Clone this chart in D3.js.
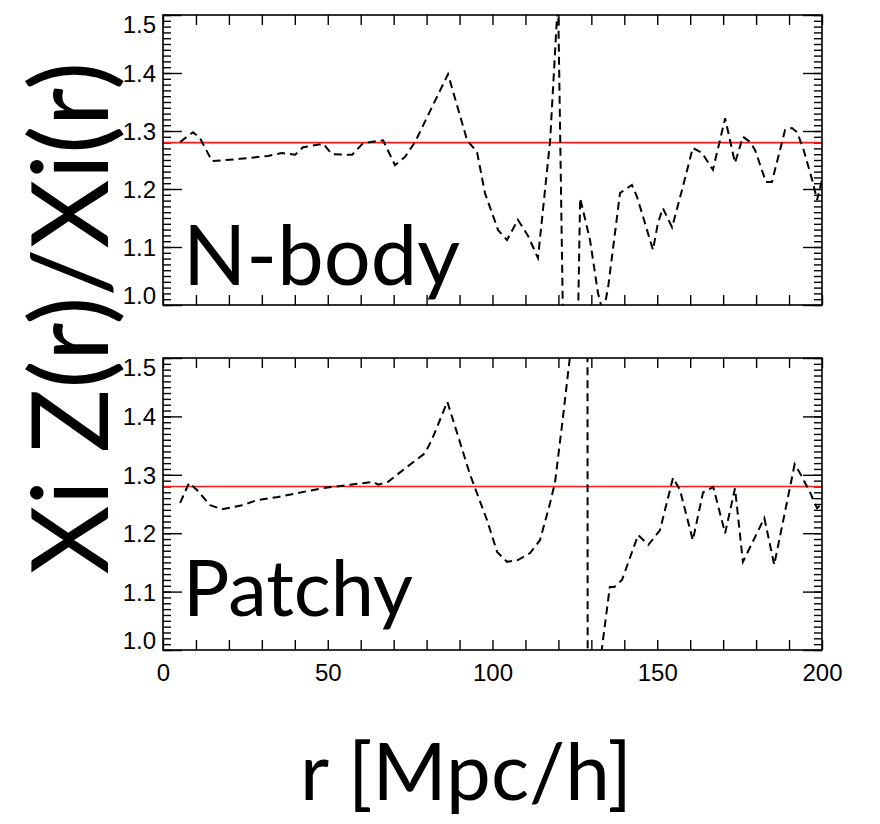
<!DOCTYPE html>
<html>
<head>
<meta charset="utf-8">
<script src="https://cdn.jsdelivr.net/npm/d3@7"></script>
<style>
  html, body { margin: 0; padding: 0; background: #fff; }
  svg { display: block; }
</style>
</head>
<body>
<svg id="chart" width="880" height="824"></svg>
<script>
// Ratio of the clustering estimators, N-body vs Patchy mocks
const rNbody = [5.2, 9.1, 11.2, 14.9, 23.4, 31.9, 36.1, 40.1, 42.5, 48.6, 51.3, 57.4, 60.7, 66.8, 70.4, 73.4, 76.5,
  86.5, 92.3, 95.3, 97.7, 101.7, 104.4, 107.7, 110.8, 113.8, 117.5, 119.9, 121.8, 125.3, 126.6, 129.6, 132.0,
  133.6, 135.1, 138.7, 142.3, 143.9, 148.7, 150.2, 151.7, 154.5, 157.5, 160.8, 163.6, 166.9, 170.6, 173.6,
  176.0, 178.2, 179.7, 183.0, 184.8, 188.8, 190.9, 192.4, 194.2, 197.0, 198.5, 200.0];
const ratioNbody = [1.281, 1.298, 1.288, 1.248, 1.252, 1.257, 1.262, 1.259, 1.272, 1.278, 1.260, 1.259, 1.279, 1.284, 1.241, 1.255, 1.281,
  1.398, 1.284, 1.264, 1.193, 1.129, 1.112, 1.147, 1.119, 1.081, 1.284, 1.53, 0.82, 0.76, 1.184, 1.112, 1.021,
  0.985, 1.031, 1.193, 1.207, 1.186, 1.095, 1.141, 1.167, 1.134, 1.198, 1.271, 1.262, 1.233, 1.322, 1.245,
  1.290, 1.281, 1.267, 1.212, 1.212, 1.302, 1.305, 1.298, 1.272, 1.216, 1.181, 1.216];

const rPatchy = [5.2, 7.9, 10.3, 14.3, 17.9, 24.0, 28.8, 34.9, 41.0, 48.3, 56.8, 63.7, 65.3, 68.3, 72.8, 79.5, 81.6,
  86.3, 93.2, 98.3, 101.4, 104.4, 107.7, 111.4, 114.4, 117.5, 119.0, 121.4, 125.9, 128.6, 129.2, 132.0,
  135.6, 137.0, 139.3, 144.2, 147.3, 150.8, 154.8, 156.9, 160.8, 163.9, 167.0, 170.6, 173.6, 176.0,
  182.5, 185.5, 191.7, 193.2, 196.2, 198.5, 200.0];
const ratioPatchy = [1.252, 1.286, 1.274, 1.248, 1.241, 1.248, 1.257, 1.262, 1.269, 1.277, 1.283, 1.288, 1.283, 1.288, 1.308, 1.337, 1.360,
  1.425, 1.300, 1.223, 1.168, 1.151, 1.154, 1.166, 1.188, 1.252, 1.288, 1.399, 1.62, 4.0, -2.5, 0.95,
  1.108, 1.108, 1.120, 1.197, 1.180, 1.205, 1.295, 1.274, 1.188, 1.270, 1.279, 1.200, 1.277, 1.151,
  1.226, 1.146, 1.318, 1.304, 1.272, 1.243, 1.250];

const refLevel = 1.28;
const panelNames = ["N-body", "Patchy"];
const xLabelTicks = [0, 50, 100, 150, 200];
const yLabelTicks = [1.0, 1.1, 1.2, 1.3, 1.4, 1.5];
const xDomain = [0, 200];
const yDomain = [1.0, 1.5];

const svg = d3.select("#chart");
const left = 163, right = 822;
const panels = [
  { name: panelNames[0], r: rNbody, v: ratioNbody, top: 15, bottom: 305, labelY: 285, xLabels: false },
  { name: panelNames[1], r: rPatchy, v: ratioPatchy, top: 358, bottom: 650, labelY: 616, xLabels: true }
];

const x = d3.scaleLinear().domain(xDomain).range([left, right]);
const xMinor = d3.range(0, 201, 10);
const yMinor = d3.range(100, 151, 1).map(d => d / 100);

const tickFont = "'Liberation Sans', Arial, Helvetica, sans-serif";
const bigFont = "Lato, 'Open Sans', sans-serif";

function styleAxis(g) {
  g.select(".domain").remove();
  g.selectAll(".tick line").attr("stroke", "#000").attr("stroke-width", 1.4);
  g.selectAll(".tick text").attr("fill", "#000").style("font-family", tickFont).style("font-size", "24px");
}

panels.forEach((p, i) => {
  const y = d3.scaleLinear().domain(yDomain).range([p.bottom, p.top]);
  const g = svg.append("g");

  const clipId = "clip" + i;
  svg.append("clipPath").attr("id", clipId)
    .append("rect").attr("x", left).attr("y", p.top).attr("width", right - left).attr("height", p.bottom - p.top);

  // left axis: minor + major ticks pointing inward, with labels
  g.append("g").attr("transform", `translate(${left},0)`)
    .call(d3.axisLeft(y).tickValues(yMinor).tickSize(-8).tickFormat(""))
    .call(styleAxis);
  const yl = g.append("g").attr("transform", `translate(${left},0)`)
    .call(d3.axisLeft(y).tickValues(yLabelTicks).tickSize(-19).tickPadding(7).tickFormat(d3.format(".1f")))
    .call(styleAxis);
  // keep end labels inside the panel height
  yl.selectAll(".tick text").attr("dy", d => d === 1.5 ? "0.72em" : (d === 1.0 ? "-0.05em" : "0.35em"));

  // right axis (mirror)
  g.append("g").attr("transform", `translate(${right},0)`)
    .call(d3.axisRight(y).tickValues(yMinor).tickSize(-8).tickFormat(""))
    .call(styleAxis);
  g.append("g").attr("transform", `translate(${right},0)`)
    .call(d3.axisRight(y).tickValues(yLabelTicks).tickSize(-19).tickFormat(""))
    .call(styleAxis);

  // top and bottom x ticks
  g.append("g").attr("transform", `translate(0,${p.top})`)
    .call(d3.axisTop(x).tickValues(xMinor).tickSize(-10).tickFormat(""))
    .call(styleAxis);
  g.append("g").attr("transform", `translate(0,${p.bottom})`)
    .call(d3.axisBottom(x).tickValues(xMinor).tickSize(-10).tickFormat(""))
    .call(styleAxis);
  if (p.xLabels) {
    g.append("g").attr("transform", `translate(0,${p.bottom})`)
      .call(d3.axisBottom(x).tickValues(xLabelTicks).tickSize(0).tickPadding(14).tickFormat(d3.format("d")))
      .call(styleAxis);
  }

  // reference level
  g.append("line")
    .attr("x1", left).attr("x2", right)
    .attr("y1", y(refLevel)).attr("y2", y(refLevel))
    .attr("stroke", "#ff1a1a").attr("stroke-width", 1.6);

  // ratio curve
  const pts = p.r.map((r, k) => [r, p.v[k]]);
  g.append("path")
    .datum(pts)
    .attr("clip-path", `url(#${clipId})`)
    .attr("fill", "none")
    .attr("stroke", "#000")
    .attr("stroke-width", 2)
    .attr("stroke-dasharray", "8,5")
    .attr("d", d3.line().x(d => x(d[0])).y(d => y(d[1])));

  // frame
  g.append("rect")
    .attr("x", left).attr("y", p.top)
    .attr("width", right - left).attr("height", p.bottom - p.top)
    .attr("fill", "none").attr("stroke", "#000").attr("stroke-width", 1.6);

  // panel name
  const t = g.append("text")
    .attr("x", 183).attr("y", p.labelY)
    .style("font-family", bigFont).style("font-size", "86px")
    .attr("fill", "#000")
    .text(p.name);
  fitWidth(t, i === 0 ? 277 : 230);
});

function fitWidth(sel, target) {
  const node = sel.node();
  const fs = parseFloat(sel.style("font-size"));
  const w = node.getComputedTextLength();
  if (w > 0) sel.style("font-size", (fs * target / w).toFixed(2) + "px");
}

// axis titles
const yTitle = svg.append("text")
  .attr("transform", "translate(108,318) rotate(-90)")
  .attr("text-anchor", "middle")
  .style("font-family", bigFont).style("font-size", "84px")
  .attr("fill", "#000")
  .text("Xi Z(r)/Xi(r)");
fitWidth(yTitle, 513);

const xTitle = svg.append("text")
  .attr("x", 466).attr("y", 800)
  .attr("text-anchor", "middle")
  .style("font-family", bigFont).style("font-size", "84px")
  .attr("fill", "#000")
  .text("r [Mpc/h]");
fitWidth(xTitle, 332);
</script>
</body>
</html>
